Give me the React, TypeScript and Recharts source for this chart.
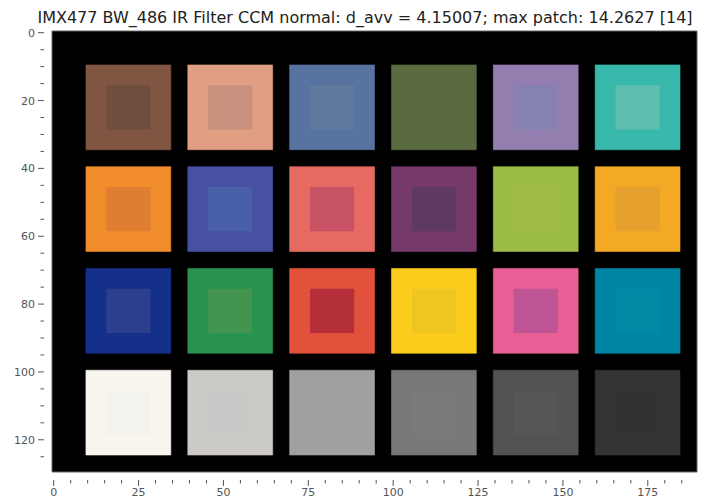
import { ComposedChart, XAxis, YAxis, ReferenceArea, Scatter } from "recharts";

const title = "IMX477 BW_486 IR Filter CCM normal: d_avv = 4.15007; max patch: 14.2627 [14]";

// image size in pixels (imshow extent -0.5 .. n-0.5)
const imageWidth = 190;
const imageHeight = 130;

// patch grid in image pixels
const patchCols = [10, 40, 70, 100, 130, 160];
const patchRows = [10, 40, 70, 100];
const patchSize = 25;
const innerInset = 6;

// measured (outer) and reference (inner) colours, row by row
const outerColors = [
  "#805542", "#e09e82", "#5873a0", "#5a6b40", "#947eb0", "#38b9ab",
  "#f08c2a", "#4651a3", "#e66a62", "#753a6a", "#9cbc45", "#f3a925",
  "#15308a", "#289350", "#e1513b", "#fccd1c", "#e85f96", "#0085a6",
  "#f8f4ee", "#cccac7", "#a19f9f", "#787877", "#535354", "#343233",
];
const innerColors = [
  "#6f4e3e", "#c7917e", "#5f7a9c", "#596a43", "#8582b2", "#5fbfae",
  "#df7d31", "#495fa7", "#c75263", "#5e3a62", "#a0bb48", "#e5a02d",
  "#2c3f8c", "#42944f", "#b52f3b", "#efc521", "#c05595", "#0388a6",
  "#f3f3ee", "#c8cac8", "#9fa09e", "#7a7b79", "#555657", "#313332",
];

const xTicks = Array.from({ length: 38 }, (_, i) => i * 5);
const yTicks = Array.from({ length: 26 }, (_, i) => i * 5);

const patches = outerColors.map((outer, i) => {
  const x = patchCols[i % patchCols.length];
  const y = patchRows[Math.floor(i / patchCols.length)];
  return { x, y, outer, inner: innerColors[i] };
});

const tickColor = "#555";

function XTick(props: any) {
  const { x, y, payload } = props;
  const major = payload.value % 25 === 0;
  return (
    <g>
      <line x1={x} y1={y} x2={x} y2={y + (major ? 6 : 3.5)} stroke={tickColor} strokeWidth={1} />
      {major && (
        <text x={x} y={y + 16} textAnchor="middle" fill={tickColor} fontSize={11}>
          {payload.value}
        </text>
      )}
    </g>
  );
}

function YTick(props: any) {
  const { x, y, payload } = props;
  const major = payload.value % 20 === 0;
  return (
    <g>
      <line x1={x} y1={y} x2={x - (major ? 6 : 3.5)} y2={y} stroke={tickColor} strokeWidth={1} />
      {major && (
        <text x={x - 9} y={y + 4} textAnchor="end" fill={tickColor} fontSize={11}>
          {payload.value}
        </text>
      )}
    </g>
  );
}

export default function App() {
  return (
    <div
      style={{
        position: "fixed",
        left: 0,
        top: 0,
        width: 714,
        height: 503,
        background: "#fff",
        fontFamily: "'DejaVu Sans', sans-serif",
      }}
    >
      <div
        style={{
          position: "absolute",
          top: 8,
          left: 0,
          width: 730,
          textAlign: "center",
          fontSize: 16,
          color: "#222",
        }}
      >
        {title}
      </div>
      <ComposedChart
        width={714}
        height={503}
        data={patches}
        margin={{ top: 31, right: 17, left: 12, bottom: 0 }}
      >
        <XAxis
          type="number"
          dataKey="x"
          domain={[-0.5, imageWidth - 0.5]}
          ticks={xTicks}
          interval={0}
          tickLine={false}
          axisLine={false}
          tick={<XTick />}
          height={31}
          allowDataOverflow
        />
        <YAxis
          type="number"
          dataKey="y"
          reversed
          domain={[-0.5, imageHeight - 0.5]}
          ticks={yTicks}
          interval={0}
          tickLine={false}
          axisLine={false}
          tick={<YTick />}
          width={40}
          allowDataOverflow
        />
        <ReferenceArea
          x1={-0.5}
          x2={imageWidth - 0.5}
          y1={-0.5}
          y2={imageHeight - 0.5}
          fill="#000"
          fillOpacity={1}
          stroke="#666"
          strokeWidth={1}
        />
        {patches.map((p, i) => (
          <ReferenceArea
            key={`o${i}`}
            x1={p.x - 0.5}
            x2={p.x + patchSize - 0.5}
            y1={p.y - 0.5}
            y2={p.y + patchSize - 0.5}
            fill={p.outer}
            fillOpacity={1}
            stroke={p.outer}
            strokeOpacity={0.6}
          />
        ))}
        {patches.map((p, i) => (
          <ReferenceArea
            key={`i${i}`}
            x1={p.x + innerInset - 0.5}
            x2={p.x + patchSize - innerInset - 0.5}
            y1={p.y + innerInset - 0.5}
            y2={p.y + patchSize - innerInset - 0.5}
            fill={p.inner}
            fillOpacity={1}
          />
        ))}
        <Scatter dataKey="y" fill="transparent" shape={() => <g />} isAnimationActive={false} />
      </ComposedChart>
    </div>
  );
}
